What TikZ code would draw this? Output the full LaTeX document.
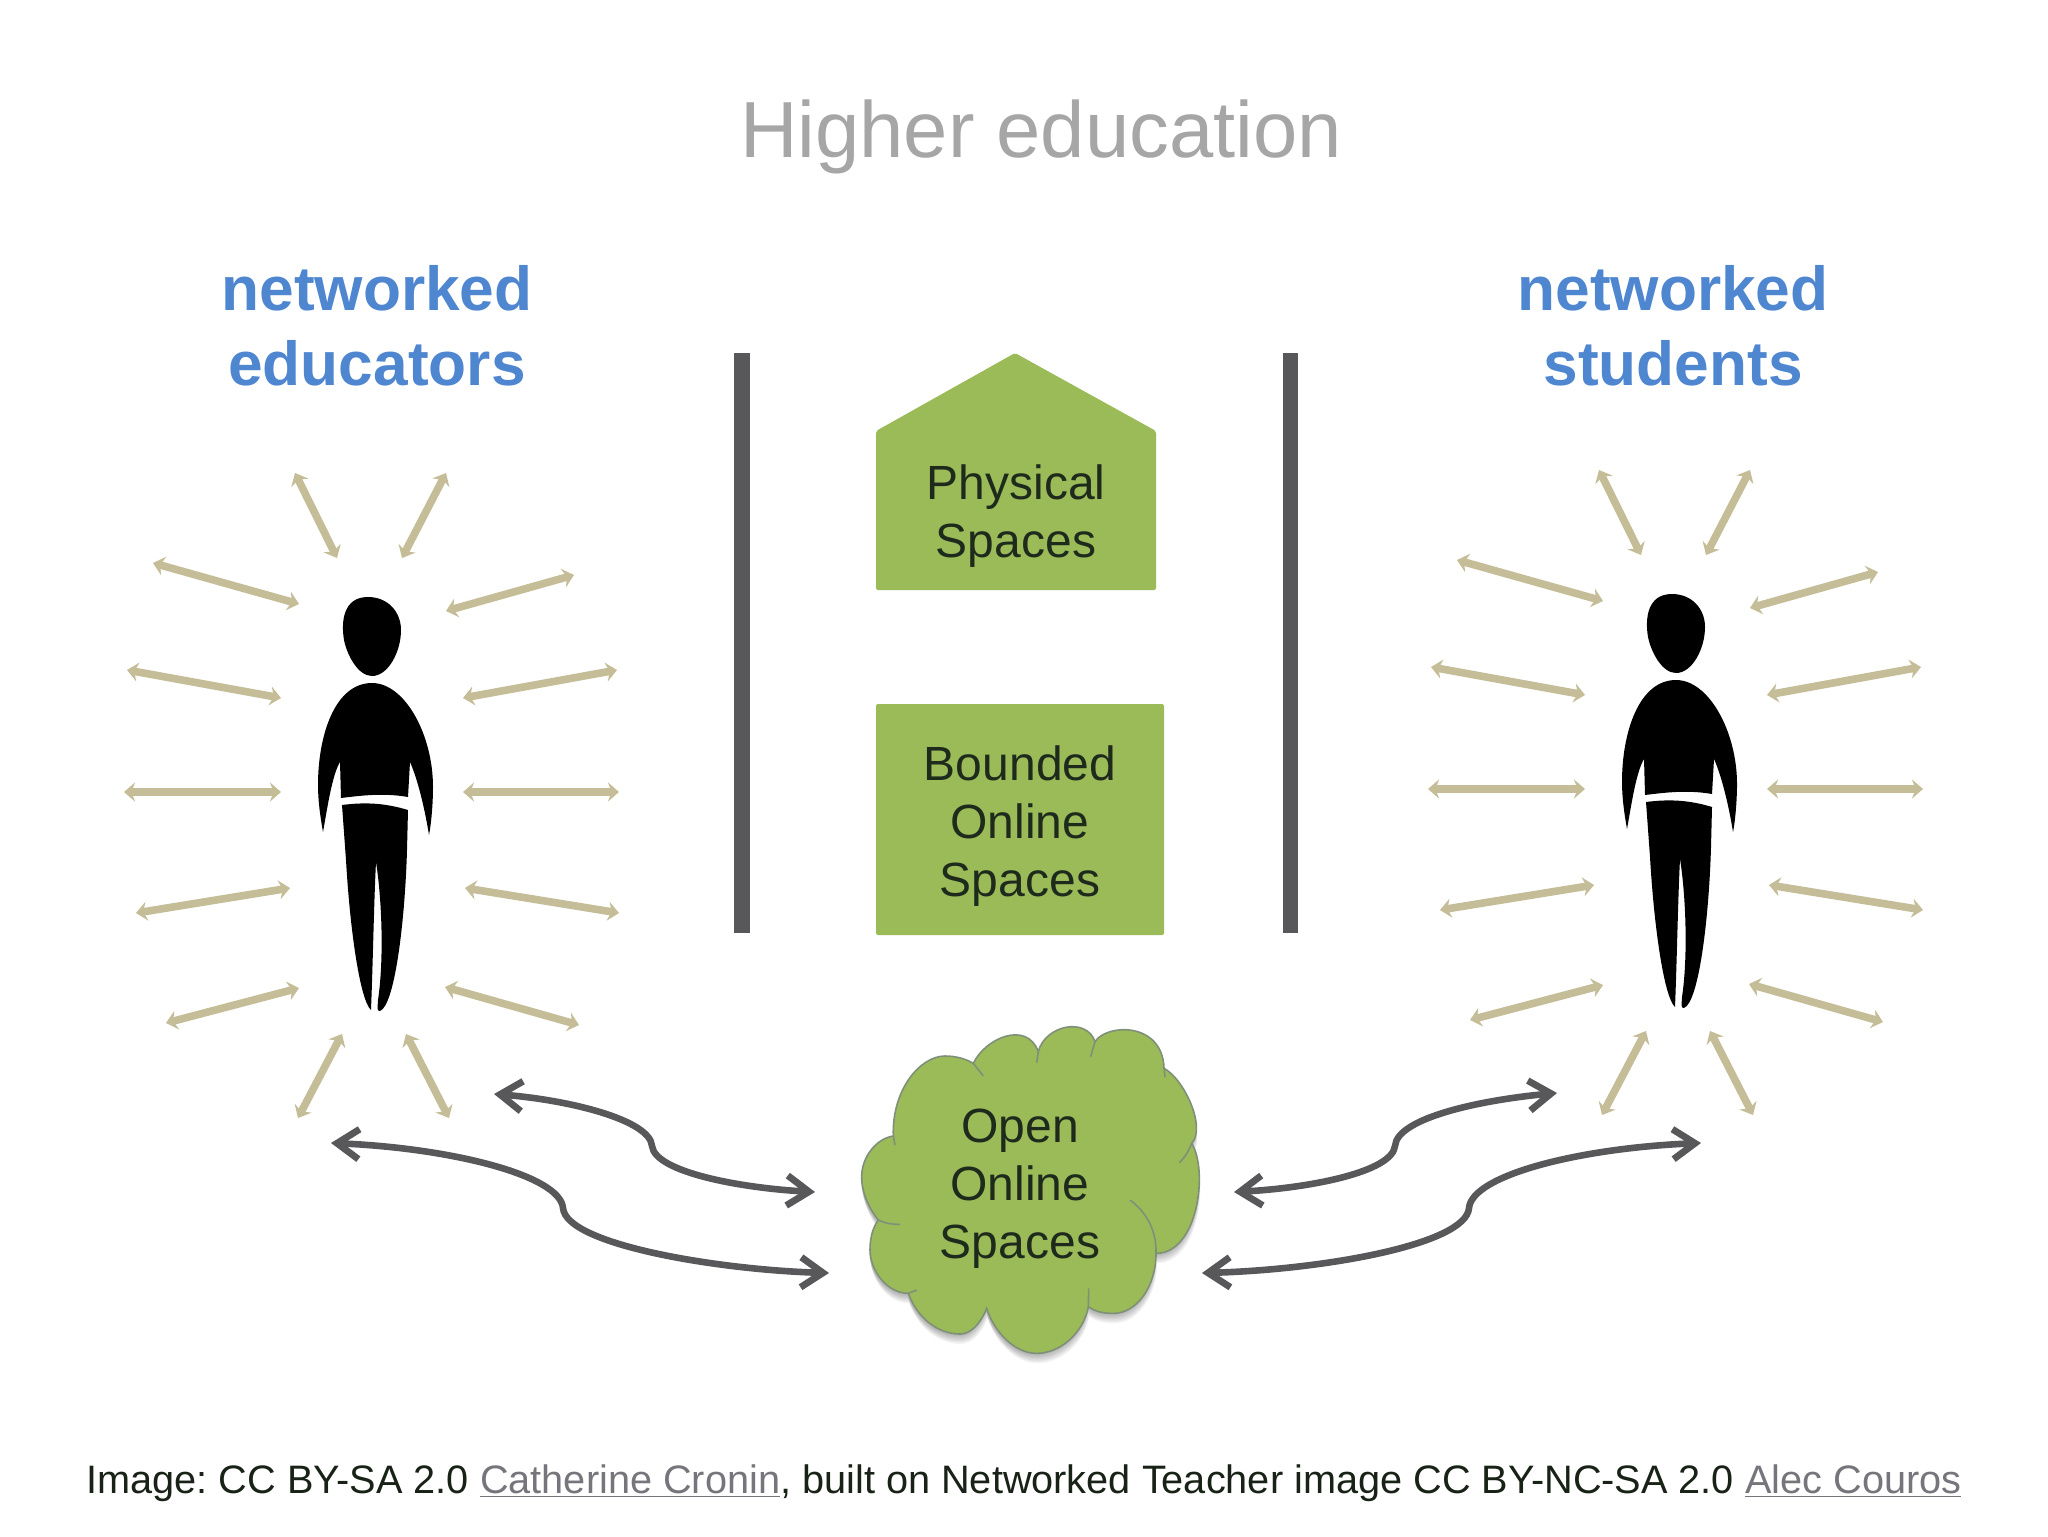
\documentclass[tikz,border=0pt]{standalone}
\usepackage{fontspec}
\setmainfont{Liberation Sans}
\usetikzlibrary{arrows.meta}
\frenchspacing
\definecolor{spacegreen}{HTML}{9BBB59}
\definecolor{barcol}{HTML}{58585A}
\definecolor{tan}{HTML}{C4BD97}
\definecolor{netblue}{HTML}{4F86D0}
\definecolor{titlegray}{HTML}{A6A6A6}
\definecolor{linkgray}{HTML}{77757C}
\definecolor{inkdark}{HTML}{1E2A1C}
\definecolor{seamcol}{HTML}{7F9078}
\newcommand{\cloudoutline}{
  (220,408) .. controls (215,270) and (300,168) .. (375,168)
  .. controls (410,168) and (440,178) .. (460,190)
  .. controls (495,115) and (620,60) .. (655,155)
  .. controls (675,75) and (800,50) .. (825,125)
  .. controls (860,70) and (1028,65) .. (1032,205)
  .. controls (1090,235) and (1160,380) .. (1115,430)
  .. controls (1165,510) and (1135,760) .. (1008,760)
  .. controls (1008,860) and (950,940) .. (880,940)
  .. controls (850,940) and (825,935) .. (805,920)
  .. controls (790,1000) and (720,1060) .. (650,1060)
  .. controls (580,1060) and (520,990) .. (500,925)
  .. controls (480,975) and (450,1002) .. (420,1002)
  .. controls (350,1002) and (290,950) .. (265,880)
  .. controls (200,880) and (150,810) .. (150,750)
  .. controls (150,710) and (160,680) .. (175,660)
  .. controls (150,630) and (125,580) .. (125,530)
  .. controls (125,470) and (170,415) .. (220,408) -- cycle}
\tikzset{
  x=0.5pt,y=-0.5pt,
  wall/.style={fill=barcol,draw=none},
  spacebox/.style={fill=spacegreen,draw=none,rounded corners=1pt},
  spacetext/.style={text=inkdark,font=\fontsize{24}{29}\selectfont,align=center},
  nettext/.style={text=netblue,font=\bfseries\fontsize{31.1}{37.6}\selectfont,align=center},
  raylink/.style={tan,line width=3.8pt,{Stealth[length=5.5pt,width=9.5pt]}-{Stealth[length=5.5pt,width=9.5pt]}},
  flowlink/.style={barcol,line width=3.3pt,line cap=round,line join=round,
    {Straight Barb[length=11pt,width=15pt,line width=3.4pt]}-{Straight Barb[length=11pt,width=15pt,line width=3.4pt]}},
  cloudseam/.style={draw=seamcol,line width=0.8pt},
}
\begin{document}
\begin{tikzpicture}
\useasboundingbox (0,0) rectangle (2048,1536);
\fill[white] (0,0) rectangle (2048,1536);

\node[text=titlegray,font=\fontsize{39.8}{44}\selectfont] (title) at (1041,137) {Higher education};
\node[nettext] (educators) at (377,326) {networked\\educators};
\node[nettext] (students) at (1673,326) {networked\\students};

\fill[wall] (734,353) rectangle (750,933);
\fill[wall] (1283,353) rectangle (1298,933);

\fill[spacebox] (876,431) -- (1015,353) -- (1156,431) -- (1156,590) -- (876,590) -- cycle;
\node[spacetext] (physical) at (1016,516) {Physical\\Spaces};
\fill[spacebox] (876,704) rectangle (1164,935);
\node[spacetext] (bounded) at (1020,826) {Bounded\\Online\\Spaces};

% cloud
\begin{scope}[shift={(820,1000)},x=0.16667pt,y=-0.16667pt]
  \foreach \s in {0,...,6}{
    \fill[black,opacity=0.045] [shift={(-3+\s,6+4*\s)}] \cloudoutline;
  }
  \fill[spacegreen] \cloudoutline;
  \draw[cloudseam] \cloudoutline;
  \draw[cloudseam] (220,408) -- (225,435);
  \draw[cloudseam] (460,190) -- (490,228);
  \draw[cloudseam] (655,155) -- (650,188);
  \draw[cloudseam] (825,125) -- (812,170);
  \draw[cloudseam] (1032,205) -- (1035,232);
  \draw[cloudseam] (1115,430) .. controls (1105,455) and (1095,472) .. (1078,488);
  \draw[cloudseam] (930,600) .. controls (985,640) and (1010,700) .. (1008,760);
  \draw[cloudseam] (805,920) -- (806,865);
  \draw[cloudseam] (265,880) -- (290,870);
  \draw[cloudseam] (175,660) .. controls (195,670) and (215,673) .. (240,673);
\end{scope}
\node[spacetext] (open) at (1020,1189) {Open\\Online\\Spaces};

% people and their rays
\foreach \who/\dx/\dy in {L/0/0,R/1304/-3}{
  \begin{scope}[shift={(\dx,\dy)}]
    \fill[black] (368,597) .. controls (388,597) and (401,612) .. (401,630)
      .. controls (401,652) and (388,676) .. (372,676)
      .. controls (358,676) and (347,655) .. (344,640)
      .. controls (341,622) and (343,597) .. (368,597) -- cycle;
    \fill[black] (372,683) .. controls (405,683) and (433,735) .. (433,787)
      .. controls (433,805) and (431,825) .. (429,835)
      .. controls (425,810) and (418,780) .. (410,762)
      -- (408,797) .. controls (385,793) and (365,795) .. (341,798)
      -- (340,762) .. controls (332,775) and (327,810) .. (323,832)
      .. controls (320,815) and (318,800) .. (318,785)
      .. controls (318,735) and (335,683) .. (372,683) -- cycle;
    \fill[black] (342,805) .. controls (365,802) and (385,803) .. (408,810)
      -- (407,850) .. controls (405,920) and (395,1005) .. (380,1011)
      .. controls (376,1012) and (378,1005) .. (378,1000)
      .. controls (384,960) and (382,900) .. (376,862)
      .. controls (374,900) and (373,960) .. (371,1010)
      .. controls (360,1000) and (350,930) .. (346,860) -- cycle;
    \foreach \n/\ax/\ay/\bx/\by in {
      1/295/473/337/558, 2/446/473/402/558,
      3/153/563/299/604, 4/574/575/446/611,
      5/127/670/281/698, 6/617/670/463/698,
      7/124/792/281/792, 8/463/792/619/792,
      9/136/913/290/888, 10/465/888/619/913,
      11/166/1023/299/988, 12/445/987/579/1025,
      13/298/1118/342/1034, 14/406/1034/449/1118}{
      \coordinate (ray\who\n a) at (\ax,\ay);
      \coordinate (ray\who\n b) at (\bx,\by);
      \draw[raylink] (ray\who\n a) -- (ray\who\n b);
    }
  \end{scope}
}

% flows
\coordinate (la1) at (494,1094);
\coordinate (la2) at (815,1192);
\coordinate (lb1) at (331,1143);
\coordinate (lb2) at (829,1273);
\coordinate (ra1) at (1557,1093);
\coordinate (ra2) at (1234,1192);
\coordinate (rb1) at (1701,1143);
\coordinate (rb2) at (1202,1273);
\draw[flowlink] (la1) .. controls (570,1100) and (650,1120) .. (652,1146)
  .. controls (655,1172) and (740,1188) .. (la2);
\draw[flowlink] (lb1) .. controls (450,1148) and (560,1175) .. (563,1208)
  .. controls (566,1245) and (720,1270) .. (lb2);
\draw[flowlink] (ra1) .. controls (1480,1100) and (1397,1118) .. (1395,1146)
  .. controls (1392,1172) and (1310,1188) .. (ra2);
\draw[flowlink] (rb1) .. controls (1580,1148) and (1472,1175) .. (1469,1208)
  .. controls (1466,1245) and (1320,1270) .. (rb2);

\node[text=inkdark!80!black,font=\fontsize{19.85}{24}\selectfont] (credit) at (1024,1483)
  {Image: CC BY-SA 2.0 \textcolor{linkgray}{\underline{Catherine Cronin}}, built on Networked Teacher image CC BY-NC-SA 2.0 \textcolor{linkgray}{\underline{Alec Couros}}};
\end{tikzpicture}
\end{document}
